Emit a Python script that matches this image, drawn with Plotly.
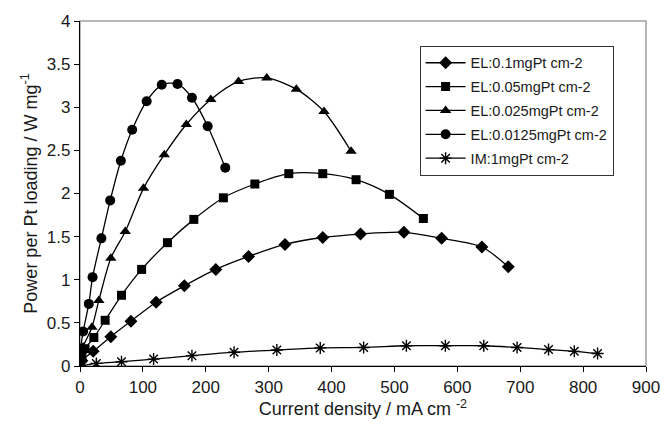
import plotly.graph_objects as go

# Data
el01_x = [0, 3, 21, 49, 81, 121, 166, 216, 268, 326, 386, 446, 515, 575, 639, 681]
el01_y = [0, 0.06, 0.17, 0.34, 0.52, 0.74, 0.93, 1.12, 1.27, 1.41, 1.49, 1.53, 1.55, 1.48, 1.38, 1.15]

el005_x = [0, 3, 8, 22, 40, 66, 98, 139, 181, 228, 278, 332, 386, 439, 492, 546]
el005_y = [0, 0.1, 0.2, 0.33, 0.53, 0.82, 1.12, 1.43, 1.70, 1.95, 2.11, 2.23, 2.23, 2.16, 1.99, 1.71]

el0025_x = [0, 2, 5, 19, 30, 49, 72, 101, 134, 169, 208, 252, 297, 344, 388, 431]
el0025_y = [0, 0.1, 0.22, 0.45, 0.76, 1.25, 1.56, 2.06, 2.45, 2.80, 3.09, 3.30, 3.34, 3.21, 2.95, 2.49]

el00125_x = [0, 0.5, 1, 5, 14, 20, 34, 48, 65, 83, 106, 130, 155, 178, 203, 231]
el00125_y = [0, 0.1, 0.2, 0.40, 0.72, 1.03, 1.48, 1.92, 2.38, 2.74, 3.07, 3.26, 3.27, 3.11, 2.78, 2.30]

im1_x = [0, 26, 66, 117, 178, 245, 313, 382, 451, 519, 581, 642, 695, 745, 786, 823]
im1_y = [0, 0.03, 0.05, 0.08, 0.12, 0.16, 0.185, 0.21, 0.215, 0.235, 0.235, 0.235, 0.215, 0.19, 0.17, 0.145]

names = ["EL:0.1mgPt cm-2", "EL:0.05mgPt cm-2", "EL:0.025mgPt cm-2",
         "EL:0.0125mgPt cm-2", "IM:1mgPt cm-2"]
xs = [el01_x, el005_x, el0025_x, el00125_x, im1_x]
ys = [el01_y, el005_y, el0025_y, el00125_y, im1_y]
symbols = ["diamond", "square", "triangle-up", "circle", "asterisk-open"]
sizes = [10, 9, 10, 10, 10]

x_ticks = list(range(0, 1000, 100))
y_ticks = [0, 0.5, 1, 1.5, 2, 2.5, 3, 3.5, 4]

FONT = "Liberation Sans, Arial, sans-serif"

fig = go.Figure()
for i, (n, x, y, s, sz) in enumerate(zip(names, xs, ys, symbols, sizes)):
    fig.add_trace(go.Scatter(
        x=x, y=y, name=n, mode="lines+markers",
        line=dict(color="black", width=1.3, shape="spline", smoothing=0.8),
        marker=dict(symbol=s, size=sz, color="black",
                    line=dict(color="black", width=1.4 if "open" in s else 0)),
        legendgroup=f"g{i}",
    ))

# plot-area frame (gray top/right)
fig.add_shape(type="rect", xref="paper", yref="paper", x0=0, y0=0, x1=1, y1=1,
              line=dict(color="#a0a0a0", width=1.5), layer="below")

fig.update_layout(
    width=672, height=427,
    margin=dict(l=80, r=19, t=20, b=61),
    paper_bgcolor="white", plot_bgcolor="white",
    font=dict(family=FONT, color="#1a1a1a", size=17),
    showlegend=True,
    legend=dict(x=0.6, y=0.928, xanchor="left", yanchor="top",
                bgcolor="white", bordercolor="#333", borderwidth=1,
                font=dict(size=14.5, family=FONT), tracegroupgap=2,
                itemwidth=40),
    xaxis=dict(range=[0, 900], tickvals=x_ticks, showgrid=False, zeroline=False,
               showline=True, linecolor="black", linewidth=1.3,
               ticks="outside", ticklen=5, tickcolor="black",
               tickfont=dict(size=17),
               title=dict(text="Current density / mA cm <sup>-2</sup>",
                          font=dict(size=18), standoff=6)),
    yaxis=dict(range=[0, 4], tickvals=y_ticks, showgrid=False, zeroline=False,
               showline=True, linecolor="black", linewidth=1.3,
               ticks="outside", ticklen=5, tickcolor="black",
               tickfont=dict(size=17),
               title=dict(text="Power per Pt loading / W mg<sup>-1</sup>",
                          font=dict(size=18), standoff=4)),
)

fig.write_html("out.html")
